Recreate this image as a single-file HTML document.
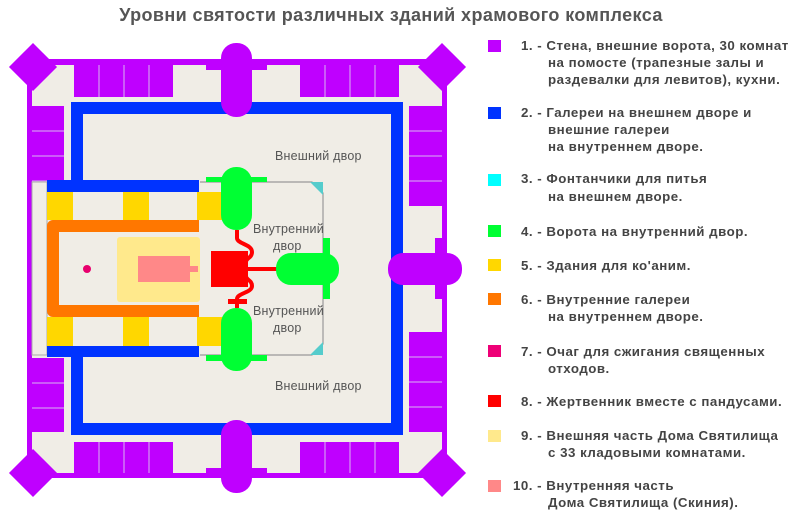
<!DOCTYPE html>
<html><head><meta charset="utf-8"><style>
html,body{margin:0;padding:0;background:#fff;}
svg{display:block;}
.t{font-family:"Liberation Sans",sans-serif;font-weight:bold;fill:#444;font-size:13.3px;letter-spacing:0.5px;}
.l{font-family:"Liberation Sans",sans-serif;fill:#555;font-size:12.5px;letter-spacing:0.2px;}
</style></head><body>
<svg width="800" height="514" viewBox="0 0 800 514" xmlns="http://www.w3.org/2000/svg">
<rect width="800" height="514" fill="#fff"/>
<text x="391" y="21" text-anchor="middle" font-family="Liberation Sans, sans-serif" font-weight="bold" font-size="18" letter-spacing="0.4" fill="#555">Уровни святости различных зданий храмового комплекса</text>

<rect x="27" y="59" width="420" height="419" fill="#bf00ff"/>
<rect x="32" y="65" width="410" height="408" fill="#f0ede6"/>
<g fill="#bf00ff">
<rect x="16" y="50" width="34" height="34" transform="rotate(45 33 67)"/>
<rect x="425" y="50" width="34" height="34" transform="rotate(45 442 67)"/>
<rect x="16" y="456" width="34" height="34" transform="rotate(45 33 473)"/>
<rect x="425" y="456" width="34" height="34" transform="rotate(45 442 473)"/>
</g>
<g fill="#bf00ff">
<rect x="74" y="65" width="99" height="32"/><rect x="300" y="65" width="99" height="32"/>
<rect x="74" y="442" width="99" height="31"/><rect x="300" y="442" width="99" height="31"/>
<rect x="32" y="106" width="32" height="100"/><rect x="32" y="358" width="32" height="74"/>
<rect x="409" y="106" width="33" height="100"/><rect x="409" y="332" width="33" height="100"/>
</g>
<g stroke="#d9b3f0" stroke-width="1">
<path d="M99 65V97M124 65V97M149 65V97M325 65V97M350 65V97M375 65V97"/>
<path d="M99 442V473M124 442V473M149 442V473M325 442V473M350 442V473M375 442V473"/>
<path d="M32 131H64M32 156H64M32 181H64M32 383H64M32 408H64"/>
<path d="M409 131H442M409 156H442M409 181H442M409 357H442M409 382H442M409 407H442"/>
</g>
<path d="M77 186V108H397V429H77V351" fill="none" stroke="#0033ff" stroke-width="12"/>
<g fill="#bf00ff">
<rect x="206" y="65" width="61" height="5"/><rect x="221" y="43" width="31" height="74" rx="15"/>
<rect x="206" y="468" width="61" height="5"/><rect x="221" y="420" width="31" height="73" rx="15"/>
<rect x="435" y="238" width="7" height="61"/><rect x="388" y="253" width="74" height="32" rx="15"/>
</g>
<rect x="32" y="182" width="15" height="173" fill="#f0ede6" stroke="#aaa" stroke-width="1"/>
<path d="M200 182H312L323 193V344L312 355H200" fill="#f0ede6" stroke="#999" stroke-width="1.2"/>
<path d="M310 182L323 182L323 195Z" fill="#5cc"/>
<path d="M310 355L323 355L323 342Z" fill="#5cc"/>
<rect x="47" y="180" width="152" height="12" fill="#0033ff"/>
<rect x="47" y="346" width="152" height="11" fill="#0033ff"/>
<g fill="#ffd700">
<rect x="47" y="192" width="26" height="28"/><rect x="123" y="192" width="26" height="28"/><rect x="197" y="192" width="25" height="28"/>
<rect x="47" y="317" width="26" height="29"/><rect x="123" y="317" width="26" height="29"/><rect x="197" y="317" width="25" height="29"/>
</g>
<path d="M199 226H53V311H199" fill="none" stroke="#ff7700" stroke-width="12" stroke-linejoin="round"/>
<rect x="117" y="237" width="83" height="65" rx="3" fill="#ffe98c"/>
<rect x="138" y="256" width="52" height="26" fill="#ff8888"/>
<rect x="190" y="266" width="8" height="6" fill="#ff8888"/>
<circle cx="87" cy="269" r="4" fill="#e8006e"/>
<rect x="211" y="251" width="37" height="36" fill="#ff0000"/>
<rect x="248" y="267" width="30" height="4" fill="#ff0000"/>
<path d="M237 230V238C237 244 252 244 252 252C252 258 246 258 246 262" fill="none" stroke="#ff0000" stroke-width="4"/>
<path d="M246 276C246 280 252 280 252 286C252 293 237 293 237 299V308" fill="none" stroke="#ff0000" stroke-width="4"/>
<rect x="228" y="299" width="19" height="5" fill="#ff0000"/>
<g fill="#00ff33">
<rect x="206" y="177" width="61" height="5"/><rect x="221" y="167" width="31" height="63" rx="15"/>
<rect x="206" y="355" width="61" height="6"/><rect x="221" y="308" width="31" height="63" rx="15"/>
<rect x="323" y="238" width="7" height="61"/><rect x="276" y="253" width="63" height="32" rx="15"/>
</g>
<text class="l" x="275" y="160">Внешний двор</text>
<text class="l" x="275" y="390">Внешний двор</text>
<text class="l" x="253" y="233">Внутренний</text>
<text class="l" x="273" y="250">двор</text>
<text class="l" x="253" y="315">Внутренний</text>
<text class="l" x="273" y="332">двор</text>

<g>
<rect x="488" y="40" width="13" height="12" fill="#bf00ff"/>
<rect x="488" y="107" width="13" height="12" fill="#0033ff"/>
<rect x="488" y="174" width="13" height="12" fill="#00ffff"/>
<rect x="488" y="225" width="13" height="12" fill="#00ff33"/>
<rect x="488" y="259" width="13" height="12" fill="#ffd700"/>
<rect x="488" y="293" width="13" height="12" fill="#ff7700"/>
<rect x="488" y="345" width="13" height="12" fill="#ee0077"/>
<rect x="488" y="395" width="13" height="12" fill="#ff0000"/>
<rect x="488" y="430" width="13" height="12" fill="#ffe98c"/>
<rect x="488" y="480" width="13" height="12" fill="#ff8888"/>
</g>
<g class="t">
<text x="521" y="50">1. - Стена, внешние ворота, 30 комнат</text>
<text x="548" y="67">на помосте (трапезные залы и</text>
<text x="548" y="84">раздевалки для левитов), кухни.</text>
<text x="521" y="117">2. - Галереи на внешнем дворе и</text>
<text x="548" y="134">внешние галереи</text>
<text x="548" y="151">на внутреннем дворе.</text>
<text x="521" y="183">3. - Фонтанчики для питья</text>
<text x="548" y="201">на внешнем дворе.</text>
<text x="521" y="236">4. - Ворота на внутренний двор.</text>
<text x="521" y="270">5. - Здания для ко'аним.</text>
<text x="521" y="304">6. - Внутренние галереи</text>
<text x="548" y="321">на внутреннем дворе.</text>
<text x="521" y="356">7. - Очаг для сжигания священных</text>
<text x="548" y="373">отходов.</text>
<text x="521" y="406">8. - Жертвенник вместе с пандусами.</text>
<text x="521" y="440">9. - Внешняя часть Дома Святилища</text>
<text x="548" y="457">с 33 кладовыми комнатами.</text>
<text x="513" y="490">10. - Внутренняя часть</text>
<text x="548" y="507">Дома Святилища (Скиния).</text>
</g>
</svg>
</body></html>
